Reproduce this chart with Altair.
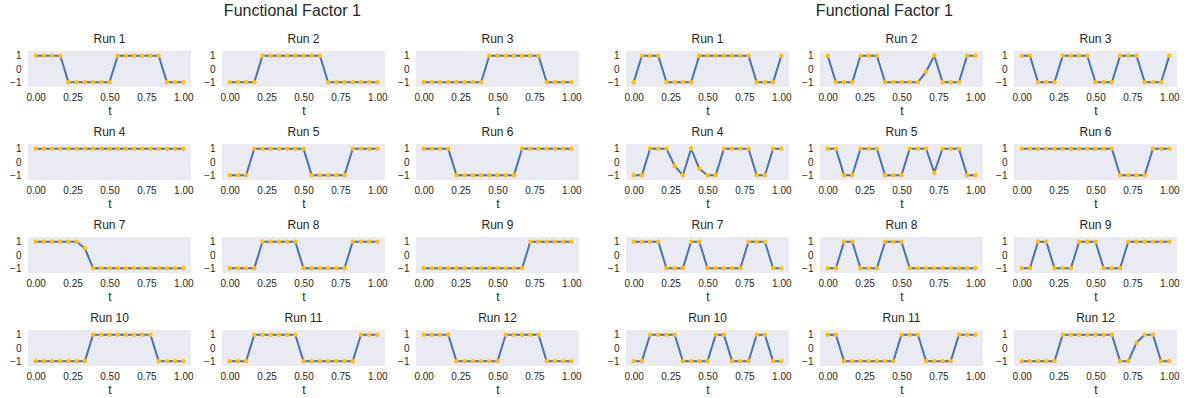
import altair as alt
import pandas as pd

# Sampling grid shared by every run
t = [0.0, 0.0556, 0.1111, 0.1667, 0.2222, 0.2778, 0.3333, 0.3889, 0.4444, 0.5,
     0.5556, 0.6111, 0.6667, 0.7222, 0.7778, 0.8333, 0.8889, 0.9444, 1.0]

# Functional factor levels, left design (runs 1-12)
left_runs = [
    [1, 1, 1, 1, -1, -1, -1, -1, -1, -1, 1, 1, 1, 1, 1, 1, -1, -1, -1],
    [-1, -1, -1, -1, 1, 1, 1, 1, 1, 1, 1, 1, -1, -1, -1, -1, -1, -1, -1],
    [-1, -1, -1, -1, -1, -1, -1, -1, 1, 1, 1, 1, 1, 1, 1, -1, -1, -1, -1],
    [1, 1, 1, 1, 1, 1, 1, 1, 1, 1, 1, 1, 1, 1, 1, 1, 1, 1, 1],
    [-1, -1, -1, 1, 1, 1, 1, 1, 1, 1, -1, -1, -1, -1, -1, 1, 1, 1, 1],
    [1, 1, 1, 1, -1, -1, -1, -1, -1, -1, -1, -1, 1, 1, 1, 1, 1, 1, 1],
    [1, 1, 1, 1, 1, 1, 0.5, -1, -1, -1, -1, -1, -1, -1, -1, -1, -1, -1, -1],
    [-1, -1, -1, -1, 1, 1, 1, 1, 1, -1, -1, -1, -1, -1, -1, 1, 1, 1, 1],
    [-1, -1, -1, -1, -1, -1, -1, -1, -1, -1, -1, -1, -1, 1, 1, 1, 1, 1, 1],
    [-1, -1, -1, -1, -1, -1, -1, 1, 1, 1, 1, 1, 1, 1, 1, -1, -1, -1, -1],
    [-1, -1, -1, 1, 1, 1, 1, 1, 1, -1, -1, -1, -1, -1, -1, -1, 1, 1, 1],
    [1, 1, 1, 1, -1, -1, -1, -1, -1, -1, 1, 1, 1, 1, 1, -1, -1, -1, -1],
]

# Functional factor levels, right design (runs 1-12)
right_runs = [
    [-1, 1, 1, 1, -1, -1, -1, -1, 1, 1, 1, 1, 1, 1, 1, -1, -1, -1, 1],
    [1, -1, -1, -1, 1, 1, 1, -1, -1, -1, -1, -1, -0.2, 1, -1, -1, -1, 1, 1],
    [1, 1, -1, -1, -1, 1, 1, 1, 1, -1, -1, -1, 1, 1, 1, -1, -1, -1, 1],
    [-1, -1, 1, 1, 1, -0.3, -1, 1, -0.5, -1, -1, 1, 1, 1, 1, -1, -1, 1, 1],
    [1, 1, -1, -1, 1, 1, 1, -1, -1, -1, 1, 1, 1, -0.8, 1, 1, 1, -1, -1],
    [1, 1, 1, 1, 1, 1, 1, 1, 1, 1, 1, 1, -1, -1, -1, -1, 1, 1, 1],
    [1, 1, 1, 1, -1, -1, -1, 1, 1, -1, -1, -1, -1, -1, 1, 1, 1, -1, -1],
    [-1, -1, 1, 1, -1, -1, -1, 1, 1, 1, -1, -1, -1, -1, -1, -1, -1, -1, -1],
    [-1, -1, 1, 1, -1, -1, -1, 1, 1, 1, -1, -1, -1, 1, 1, 1, 1, 1, 1],
    [-1, -1, 1, 1, 1, 1, -1, -1, -1, -1, 1, 1, -1, -1, -1, 1, 1, -1, -1],
    [1, 1, -1, -1, -1, -1, -1, -1, -1, 1, 1, 1, -1, -1, -1, -1, 1, 1, 1],
    [-1, -1, -1, -1, -1, 1, 1, 1, 1, 1, 1, 1, -1, -1, 0.4, 1, 1, -1, -1],
]

x_ticks = [0, 0.25, 0.5, 0.75, 1]
y_ticks = [-1, 0, 1]

BLUE = "#4C72B0"
GOLD = "#FFC107"
TEXT = "#262626"
FONT = "Liberation Sans"


def panel(values, k):
    df = pd.DataFrame({"t": t, "y": values})
    base = alt.Chart(df).encode(
        x=alt.X("t:Q",
                scale=alt.Scale(domain=[-0.052, 1.052], nice=False, zero=False),
                axis=alt.Axis(values=x_ticks, format=".2f", title="t",
                              labelPadding=5, titlePadding=3)),
        y=alt.Y("y:Q",
                scale=alt.Scale(domain=[-1.35, 1.35], nice=False, zero=False),
                axis=alt.Axis(values=y_ticks, format="d", title=None,
                              labelPadding=7)),
    )
    line = base.mark_line(color=BLUE, strokeWidth=2)
    pts = base.mark_circle(color=GOLD, size=20, opacity=1)
    return alt.layer(line, pts).properties(
        width=163, height=36,
        title=alt.TitleParams(f"Run {k}", fontSize=12, fontWeight="normal",
                              font=FONT, color=TEXT, offset=5),
    )


def group(runs, shift):
    return alt.concat(
        *[panel(v, i + 1) for i, v in enumerate(runs)],
        columns=3,
        spacing={"row": 57, "column": 31},
        bounds="flush",
        title=alt.TitleParams("Functional Factor 1", fontSize=16,
                              fontWeight="normal", font=FONT, color=TEXT,
                              anchor="middle", offset=14, dx=shift),
    )


chart = alt.hconcat(group(left_runs, -3), group(right_runs, -9), spacing=25).properties(
    padding={"left": 9, "top": 2, "right": 5, "bottom": 5},
    background="white",
).configure_view(
    fill="#EAEAF2", stroke=None
).configure_axis(
    domain=False, ticks=False, tickSize=0, grid=False,
    labelFont=FONT, labelFontSize=10, labelColor=TEXT,
    titleFont=FONT, titleFontSize=12, titleColor=TEXT, titleFontWeight="normal",
)

chart.save("out.html", embed_options={"renderer": "svg", "actions": False})
